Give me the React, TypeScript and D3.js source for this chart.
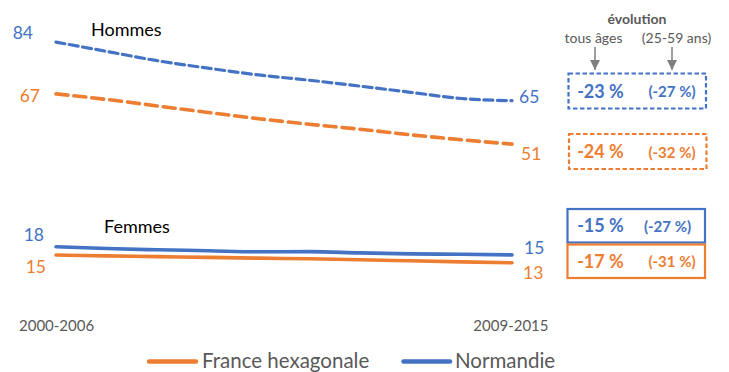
import React from "react";
import * as d3 from "d3";

const periods = ["2000-2006", "2001-2007", "2002-2008", "2003-2009", "2004-2010", "2005-2011", "2006-2012", "2007-2013", "2008-2014", "2009-2015"];
const hommesNormandie = [84.0, 81.0, 78.0, 75.6, 73.4, 71.7, 69.8, 67.8, 65.8, 65.1];
const hommesFrance = [67.3, 65.5, 63.4, 61.3, 59.3, 57.5, 55.9, 54.1, 52.5, 51.1];
const femmesNormandie = [18.0, 17.4, 17.0, 16.7, 16.35, 16.4, 16.0, 15.7, 15.55, 15.35];
const femmesFrance = [15.3, 15.05, 14.8, 14.55, 14.3, 14.1, 13.8, 13.45, 13.1, 12.8];

const evolTous = ["-23 %", "-24 %", "-15 %", "-17 %"];
const evol2559 = ["(-27 %)", "(-32 %)", "(-27 %)", "(-31 %)"];

const BLUE = "#4472C4";
const ORANGE = "#ED7D31";
const GRAY = "#595959";
const FONT = "Lato, 'Open Sans', sans-serif";

export default function App() {
  const W = 729, H = 372;
  const x = d3.scalePoint<string>().domain(periods).range([56, 512]);
  const y = d3.scaleLinear().domain([0, 84]).range([302.5, 42.1]);
  const line = d3
    .line<number>()
    .x((_, i) => x(periods[i]) as number)
    .y((d) => y(d))
    .curve(d3.curveMonotoneX);

  const series = [
    { vals: hommesNormandie, color: BLUE, width: 3.2, dash: "9 4.5" },
    { vals: hommesFrance, color: ORANGE, width: 3.6, dash: "12 6" },
    { vals: femmesNormandie, color: BLUE, width: 3.6, dash: undefined },
    { vals: femmesFrance, color: ORANGE, width: 3.6, dash: undefined },
  ];

  const x0 = x(periods[0]) as number;
  const x1 = x(periods[periods.length - 1]) as number;
  const fmt = (v: number) => String(Math.round(v));

  const startLabels = [
    { v: hommesNormandie[0], color: BLUE, dx: -23, dy: -3 },
    { v: hommesFrance[0], color: ORANGE, dx: -16, dy: 8 },
    { v: femmesNormandie[0], color: BLUE, dx: -12, dy: -6 },
    { v: femmesFrance[0], color: ORANGE, dx: -10, dy: 18 },
  ];
  const endLabels = [
    { v: hommesNormandie[9], color: BLUE, dx: 7, dy: 2 },
    { v: hommesFrance[9], color: ORANGE, dx: 9, dy: 15.5 },
    { v: femmesNormandie[9], color: BLUE, dx: 12, dy: -1 },
    { v: femmesFrance[9], color: ORANGE, dx: 11, dy: 16 },
  ];

  const boxes = [
    { top: 73.5, h: 35, color: BLUE, dashed: true, x: 568.5, w: 137.5 },
    { top: 134, h: 35, color: ORANGE, dashed: true, x: 569, w: 137.5 },
    { top: 209, h: 33.5, color: BLUE, dashed: false, x: 567.5, w: 137.5 },
    { top: 244.5, h: 33.5, color: ORANGE, dashed: false, x: 567.5, w: 137.5 },
  ];

  return (
    <svg width={W} height={H} style={{ position: "absolute", left: 0, top: 0, fontFamily: FONT }}>
      <defs>
        <marker id="arr" viewBox="0 0 10 10" refX="10" refY="5" markerWidth="10" markerHeight="10" markerUnits="userSpaceOnUse" orient="auto">
          <path d="M0,0 L10,5 L0,10 z" fill="#7F7F7F" />
        </marker>
      </defs>
      {series.map((s, i) => (
        <path
          key={i}
          d={line(s.vals) || ""}
          fill="none"
          stroke={s.color}
          strokeWidth={s.width}
          strokeDasharray={s.dash}
          strokeLinecap="round"
        />
      ))}
      <text x={91} y={36} fontSize={18} fill="#000">Hommes</text>
      <text x={104} y={233} fontSize={18} fill="#000">Femmes</text>
      {startLabels.map((l, i) => (
        <text key={"s" + i} x={x0 + l.dx} y={y(l.v) + l.dy} fontSize={17.5} fill={l.color} textAnchor="end">{fmt(l.v)}</text>
      ))}
      {endLabels.map((l, i) => (
        <text key={"e" + i} x={x1 + l.dx} y={y(l.v) + l.dy} fontSize={17.5} fill={l.color}>{fmt(l.v)}</text>
      ))}
      <text x={19} y={330.5} fontSize={15} fill={GRAY}>{periods[0]}</text>
      <text x={548.5} y={330.5} fontSize={15} fill={GRAY} textAnchor="end">{periods[periods.length - 1]}</text>

      {/* evolution header */}
      <text x={637} y={24} fontSize={14} fontWeight="bold" fill={GRAY} textAnchor="middle">évolution</text>
      <text x={593.5} y={42.5} fontSize={14} fill={GRAY} textAnchor="middle">tous âges</text>
      <text x={676.5} y={42.5} fontSize={14} fill={GRAY} textAnchor="middle">(25-59 ans)</text>
      <line x1={595} y1={47} x2={595} y2={70} stroke="#7F7F7F" strokeWidth={1.5} markerEnd="url(#arr)" />
      <line x1={672} y1={47} x2={672} y2={70} stroke="#7F7F7F" strokeWidth={1.5} markerEnd="url(#arr)" />

      {boxes.map((b, i) => (
        <g key={"b" + i}>
          <rect x={b.x} y={b.top} width={b.w} height={b.h} fill="none" stroke={b.color} strokeWidth={2.2} strokeDasharray={b.dashed ? "4.5 2.5" : undefined} />
          <text x={600.5} y={b.top + b.h / 2 + 6.5} fontSize={18} fontWeight="bold" fill={b.color} textAnchor="middle">{evolTous[i]}</text>
          <text x={i === 2 ? 667.5 : 672} y={b.top + b.h / 2 + 6} fontSize={15} fontWeight="bold" fill={b.color} textAnchor="middle">{evol2559[i]}</text>
        </g>
      ))}

      {/* legend */}
      <line x1={149} y1={361.5} x2={196} y2={361.5} stroke={ORANGE} strokeWidth={4.5} strokeLinecap="round" />
      <text x={202} y={367.5} fontSize={20.5} fill={GRAY}>France hexagonale</text>
      <line x1={403.5} y1={361.5} x2={450} y2={361.5} stroke={BLUE} strokeWidth={4.5} strokeLinecap="round" />
      <text x={455} y={367.5} fontSize={20.5} fill={GRAY}>Normandie</text>
    </svg>
  );
}
